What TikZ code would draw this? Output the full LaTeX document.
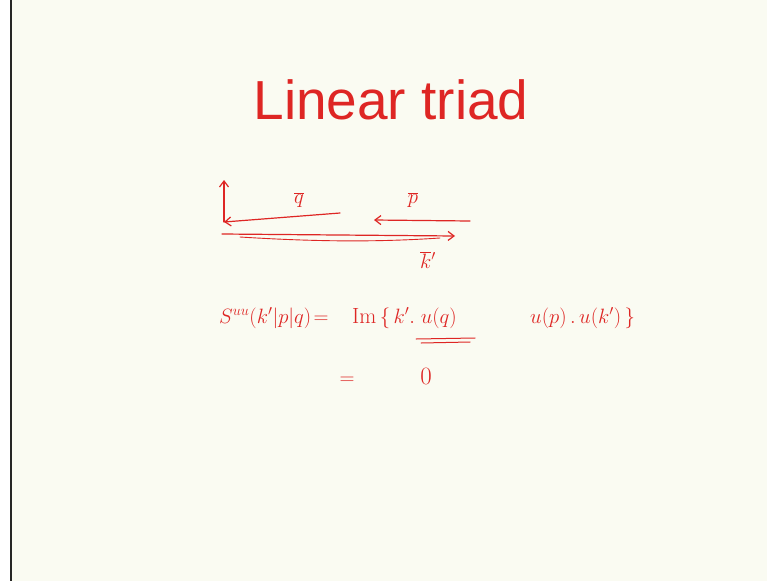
\documentclass[tikz,border=0pt]{standalone}
\usepackage{fontspec}
\setsansfont{Liberation Sans}
\usetikzlibrary{arrows.meta}
\definecolor{bg}{RGB}{250,251,242}
\definecolor{ink}{RGB}{222,38,36}
\begin{document}
\begin{tikzpicture}[x=1pt,y=-1pt,
  hand/.style={draw=ink,line width=1.2pt,line cap=round,line join=round},
  harr/.style={hand,-{Straight Barb[length=6pt,width=9pt]}},
  lbl/.style={text=ink,inner sep=0pt,font=\fontsize{21}{25}\selectfont}]
\useasboundingbox (0,0) rectangle (767,581);
\fill[white] (0,0) rectangle (767,581);
\fill[bg] (11,0) rectangle (767,581);
\fill[black!85] (10,0) rectangle (12,581);
% title
\node[text=ink,font=\sffamily\fontsize{55}{60}\selectfont,inner sep=0pt] (title) at (391,100) {Linear triad};
% vector diagram
\coordinate (o) at (224,222);
\coordinate (up) at (224,180);
\coordinate (qs) at (340,213);
\coordinate (ps) at (470,221);
\coordinate (pe) at (374,220);
\coordinate (ks) at (222,234);
\coordinate (ke) at (455,236);
\draw[harr] (o) -- (up);
\draw[harr] (qs) -- (o);
\draw[harr] (ps) -- (pe);
\draw[harr] (ks) -- (ke);
\draw[hand,line width=0.9pt] (240,237) .. controls (320,242) and (380,242) .. (440,238);
\node[lbl] (q) at (299,200) {$\overline{q}$};
\node[lbl] (p) at (413,200) {$\overline{p}$};
\node[lbl] (k) at (428,260) {$\overline{k}{}'$};
% equation
\node[lbl,anchor=west,font=\fontsize{22}{26}\selectfont] (lhs) at (219,318) {$S^{uu}(k'|p|q)\!=$};
\node[lbl,anchor=west,font=\fontsize{22}{26}\selectfont] (im) at (352,318) {$\mathrm{Im}\,\{\,k'.\;u(q)$};
\node[lbl,anchor=west,font=\fontsize{22}{26}\selectfont] (rhs) at (530,318) {$u(p)\,.\,u(k')\,\}$};
\draw[hand,line width=1pt] (416,339) -- (475,338);
\draw[hand,line width=1pt] (421,343) -- (470,342);
\node[lbl] (eq2) at (347,381) {$=$};
\node[lbl,font=\fontsize{24}{28}\selectfont] (zero) at (426,376) {$0$};
\end{tikzpicture}
\end{document}
